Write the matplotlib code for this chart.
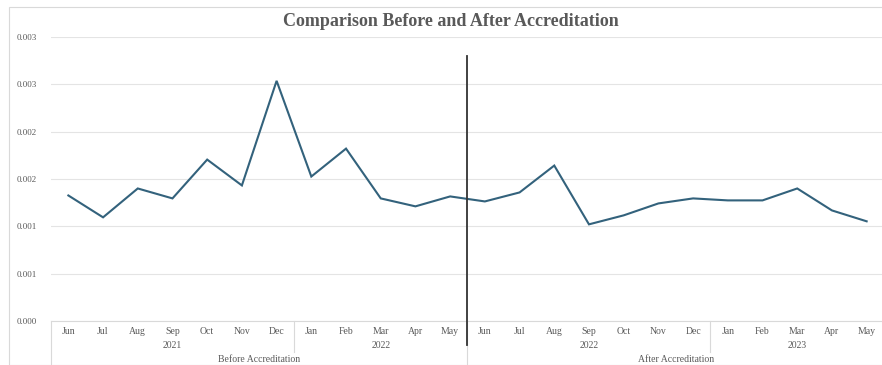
import matplotlib
matplotlib.use("Agg")
import matplotlib.pyplot as plt
from matplotlib.transforms import blended_transform_factory
from matplotlib.patches import Rectangle
from matplotlib.ticker import FuncFormatter
from decimal import Decimal, ROUND_HALF_UP

plt.rcParams['font.family'] = ['Liberation Serif', 'DejaVu Serif']

months = ["Jun", "Jul", "Aug", "Sep", "Oct", "Nov", "Dec", "Jan", "Feb", "Mar", "Apr", "May",
          "Jun", "Jul", "Aug", "Sep", "Oct", "Nov", "Dec", "Jan", "Feb", "Mar", "Apr", "May"]
# (label, first index, last index)
years = [("2021", 0, 6), ("2022", 7, 11), ("2022", 12, 18), ("2023", 19, 23)]
groups = [("Before Accreditation", 0, 11), ("After Accreditation", 12, 23)]

values = [0.001326, 0.001095, 0.001400, 0.001295, 0.001705, 0.001432, 0.002537,
          0.001526, 0.001821, 0.001295, 0.001211, 0.001316,
          0.001263, 0.001358, 0.001642, 0.001021, 0.001116, 0.001242, 0.001295,
          0.001274, 0.001274, 0.001400, 0.001168, 0.001053]

title = "Comparison Before and After Accreditation"
split_index = 11.5

W, H = 882, 365
fig = plt.figure(figsize=(W / 100, H / 100), dpi=100)

# chart frame
fig.patches.append(Rectangle((9 / W, 0), 1.2, (H - 7) / H, transform=fig.transFigure,
                             fill=False, edgecolor="#d9d9d9", linewidth=0.8))

left, right, top, bottom = 51, 884, 37, 321
ax = fig.add_axes([left / W, (H - bottom) / H, (right - left) / W, (bottom - top) / H])

x = list(range(len(values)))
ax.plot(x, values, color="#33627C", linewidth=1.5, solid_joinstyle="miter", zorder=3)

ax.set_xlim(-0.5, len(values) - 0.5)
ax.set_ylim(0, 0.003)
ax.set_yticks([i * 0.0005 for i in range(7)])


def excel_fmt(v, pos):
    d = Decimal("%.6f" % float(v))
    return str(d.quantize(Decimal("0.001"), rounding=ROUND_HALF_UP))


ax.yaxis.set_major_formatter(FuncFormatter(excel_fmt))
ax.tick_params(axis="y", length=0, labelsize=6.5, labelcolor="#595959", pad=10)
ax.set_xticks([])
ax.grid(axis="y", color="#e4e4e4", linewidth=0.8)
ax.set_axisbelow(True)
for s in ["top", "right", "left"]:
    ax.spines[s].set_visible(False)
ax.spines["bottom"].set_color("#d9d9d9")
ax.spines["bottom"].set_linewidth(0.8)

tr = blended_transform_factory(ax.transData, ax.transAxes)
ph = bottom - top


def ya(py):
    return (bottom - py) / ph


lab_kw = dict(transform=tr, ha="center", va="center", fontsize=7, color="#595959")
# month row
for i, m in enumerate(months):
    ax.text(i, ya(331), m, **lab_kw)
# year row
for lab, a, b in years:
    ax.text((a + b) / 2, ya(346), lab, **lab_kw)
# group row
for lab, a, b in groups:
    ax.text((a + b) / 2, ya(360), lab, **lab_kw)

# category separators
sep_kw = dict(transform=tr, color="#d9d9d9", linewidth=0.8, clip_on=False)
ax.plot([-0.5, -0.5], [ya(bottom), ya(H + 5)], **sep_kw)
for lab, a, b in years[:-1]:
    if b + 0.5 != split_index:
        ax.plot([b + 0.5, b + 0.5], [ya(bottom), ya(352)], **sep_kw)
ax.plot([split_index, split_index], [ya(bottom), ya(H + 5)], **sep_kw)

# divider between the two periods
ax.plot([split_index, split_index], [ya(56), ya(345)], transform=tr,
        color="#333333", linewidth=1.3, clip_on=False, zorder=4)

fig.text(451 / W, 1 - 21 / H, title, ha="center", va="center",
         fontsize=13, fontweight="bold", color="#595959")

fig.savefig("out.png", dpi=100)
